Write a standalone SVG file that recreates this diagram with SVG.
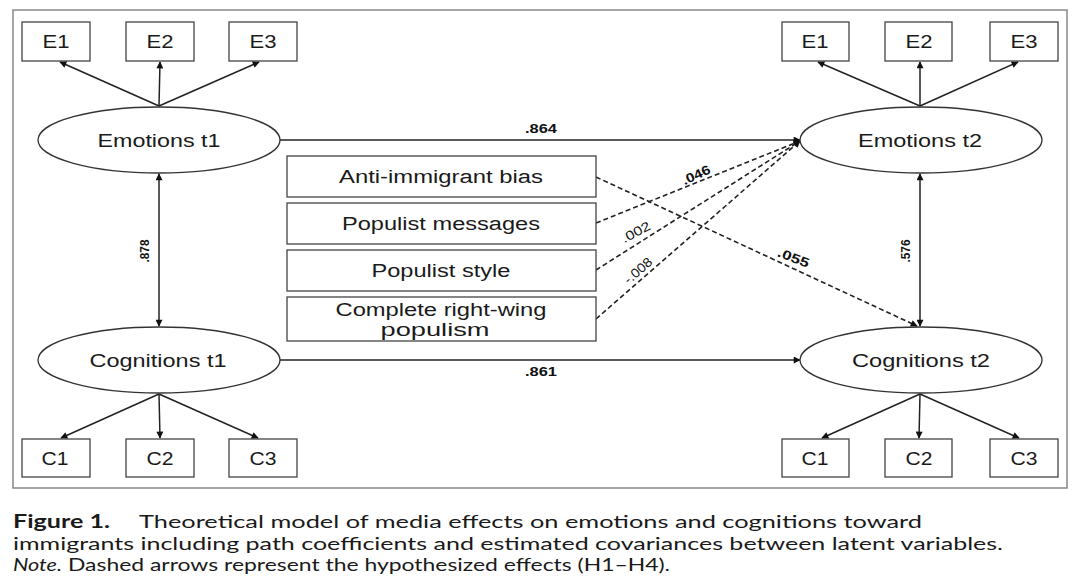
<svg xmlns="http://www.w3.org/2000/svg" width="1080" height="581" viewBox="0 0 1080 581">
<defs>
<marker id="ah" viewBox="0 0 10 10" refX="9" refY="5" markerWidth="9" markerHeight="7" markerUnits="userSpaceOnUse" orient="auto-start-reverse">
<path d="M0,0 L10,5 L0,10 z" fill="#111"/>
</marker>
<style>
.frame{fill:none;stroke:#888;stroke-width:1.5}
.box{fill:#fff;stroke:#444;stroke-width:1.3}
.ell{fill:#fff;stroke:#333;stroke-width:1.3}
.lbl{font-family:"Liberation Sans",Arial,sans-serif;font-size:18px;fill:#1a1a1a;text-anchor:middle}
.num{font-family:"Liberation Sans",Arial,sans-serif;font-size:13px;font-weight:bold;fill:#111;text-anchor:middle}
.numr{font-family:"Liberation Sans",Arial,sans-serif;font-size:13px;fill:#111;text-anchor:middle}
.ln{stroke:#222;stroke-width:1.5;fill:none}
.dash{stroke:#222;stroke-width:1.6;fill:none;stroke-dasharray:5,3}
.cap{font-family:Lato,"Open Sans",sans-serif;font-size:18px;fill:#1a1a1a}
</style>
</defs>
<rect class="frame" x="13" y="10" width="1054" height="478"/>

<g id="connectors">
<line class="ln" x1="159" y1="106" x2="60" y2="62" marker-end="url(#ah)"/>
<line class="ln" x1="159" y1="106" x2="160" y2="62" marker-end="url(#ah)"/>
<line class="ln" x1="159" y1="106" x2="259" y2="62" marker-end="url(#ah)"/>
<line class="ln" x1="920" y1="106" x2="818" y2="62" marker-end="url(#ah)"/>
<line class="ln" x1="920" y1="106" x2="920" y2="62" marker-end="url(#ah)"/>
<line class="ln" x1="920" y1="106" x2="1018" y2="62" marker-end="url(#ah)"/>
<line class="ln" x1="159" y1="394" x2="61" y2="438" marker-end="url(#ah)"/>
<line class="ln" x1="159" y1="394" x2="160" y2="438" marker-end="url(#ah)"/>
<line class="ln" x1="159" y1="394" x2="258" y2="438" marker-end="url(#ah)"/>
<line class="ln" x1="920" y1="394" x2="822" y2="438" marker-end="url(#ah)"/>
<line class="ln" x1="920" y1="394" x2="919" y2="438" marker-end="url(#ah)"/>
<line class="ln" x1="920" y1="394" x2="1019" y2="438" marker-end="url(#ah)"/>
<line class="ln" x1="159" y1="174" x2="159" y2="326" marker-start="url(#ah)" marker-end="url(#ah)"/>
<line class="ln" x1="920" y1="174" x2="920" y2="326" marker-start="url(#ah)" marker-end="url(#ah)"/>
<line class="ln" x1="280" y1="140" x2="800" y2="140" marker-end="url(#ah)"/>
<line class="ln" x1="280" y1="360" x2="800" y2="360" marker-end="url(#ah)"/>
<line class="dash" x1="596" y1="177" x2="917" y2="326" marker-end="url(#ah)"/>
<line class="dash" x1="596" y1="223" x2="800" y2="141" marker-end="url(#ah)"/>
<line class="dash" x1="596" y1="270" x2="800" y2="141" marker-end="url(#ah)"/>
<line class="dash" x1="596" y1="319" x2="800" y2="141" marker-end="url(#ah)"/>
<text class="num" x="541" y="133" textLength="32" lengthAdjust="spacingAndGlyphs">.864</text>
<text class="num" x="541" y="376" textLength="32" lengthAdjust="spacingAndGlyphs">.861</text>
<text class="num" transform="translate(149,251) rotate(-90)" textLength="23" lengthAdjust="spacingAndGlyphs">.878</text>
<text class="num" transform="translate(910,251) rotate(-90)" textLength="23" lengthAdjust="spacingAndGlyphs">.576</text>
<text class="num" transform="translate(698,179) rotate(-25)" textLength="30" lengthAdjust="spacingAndGlyphs">.046</text>
<text class="numr" transform="translate(638,236) rotate(-28)" textLength="31" lengthAdjust="spacingAndGlyphs">.002</text>
<text class="numr" transform="translate(641,274) rotate(-41)" textLength="33" lengthAdjust="spacingAndGlyphs">-.008</text>
<text class="num" transform="translate(792,262) rotate(21)" textLength="33" lengthAdjust="spacingAndGlyphs">.055</text>
</g>

<g id="E1a"><rect class="box" x="22" y="22" width="68" height="39"/><text class="lbl" x="56" y="48" textLength="27" lengthAdjust="spacingAndGlyphs">E1</text></g>
<g id="E2a"><rect class="box" x="126" y="22" width="68" height="39"/><text class="lbl" x="160" y="48" textLength="27" lengthAdjust="spacingAndGlyphs">E2</text></g>
<g id="E3a"><rect class="box" x="229" y="22" width="68" height="39"/><text class="lbl" x="263" y="48" textLength="27" lengthAdjust="spacingAndGlyphs">E3</text></g>
<g id="E1b"><rect class="box" x="782" y="22" width="67" height="39"/><text class="lbl" x="815" y="48" textLength="27" lengthAdjust="spacingAndGlyphs">E1</text></g>
<g id="E2b"><rect class="box" x="885" y="22" width="67" height="39"/><text class="lbl" x="919" y="48" textLength="27" lengthAdjust="spacingAndGlyphs">E2</text></g>
<g id="E3b"><rect class="box" x="990" y="22" width="68" height="39"/><text class="lbl" x="1024" y="48" textLength="27" lengthAdjust="spacingAndGlyphs">E3</text></g>

<g id="C1a"><rect class="box" x="22" y="439" width="68" height="38"/><text class="lbl" x="55" y="465" textLength="27" lengthAdjust="spacingAndGlyphs">C1</text></g>
<g id="C2a"><rect class="box" x="126" y="439" width="68" height="38"/><text class="lbl" x="160" y="465" textLength="27" lengthAdjust="spacingAndGlyphs">C2</text></g>
<g id="C3a"><rect class="box" x="229" y="439" width="68" height="38"/><text class="lbl" x="263" y="465" textLength="27" lengthAdjust="spacingAndGlyphs">C3</text></g>
<g id="C1b"><rect class="box" x="782" y="439" width="67" height="38"/><text class="lbl" x="815" y="465" textLength="27" lengthAdjust="spacingAndGlyphs">C1</text></g>
<g id="C2b"><rect class="box" x="885" y="439" width="67" height="38"/><text class="lbl" x="919" y="465" textLength="27" lengthAdjust="spacingAndGlyphs">C2</text></g>
<g id="C3b"><rect class="box" x="990" y="439" width="68" height="38"/><text class="lbl" x="1024" y="465" textLength="27" lengthAdjust="spacingAndGlyphs">C3</text></g>

<g id="emotions_t1"><ellipse class="ell" cx="159" cy="140" rx="121" ry="33"/><text class="lbl" x="159" y="147" textLength="123" lengthAdjust="spacingAndGlyphs">Emotions t1</text></g>
<g id="cognitions_t1"><ellipse class="ell" cx="159" cy="360" rx="121" ry="33"/><text class="lbl" x="158" y="367" textLength="137" lengthAdjust="spacingAndGlyphs">Cognitions t1</text></g>
<g id="emotions_t2"><ellipse class="ell" cx="921" cy="140" rx="121" ry="33"/><text class="lbl" x="920" y="147" textLength="124" lengthAdjust="spacingAndGlyphs">Emotions t2</text></g>
<g id="cognitions_t2"><ellipse class="ell" cx="921" cy="360" rx="121" ry="33"/><text class="lbl" x="921" y="367" textLength="138" lengthAdjust="spacingAndGlyphs">Cognitions t2</text></g>

<g id="anti_immigrant_bias"><rect class="box" x="287" y="156" width="309" height="41"/><text class="lbl" x="441" y="183" textLength="204" lengthAdjust="spacingAndGlyphs">Anti-immigrant bias</text></g>
<g id="populist_messages"><rect class="box" x="287" y="203" width="309" height="41"/><text class="lbl" x="441" y="230" textLength="198" lengthAdjust="spacingAndGlyphs">Populist messages</text></g>
<g id="populist_style"><rect class="box" x="287" y="250" width="309" height="41"/><text class="lbl" x="441" y="277" textLength="139" lengthAdjust="spacingAndGlyphs">Populist style</text></g>
<g id="complete_rw_populism"><rect class="box" x="287" y="297" width="309" height="44"/><text class="lbl" x="441" y="316" textLength="211" lengthAdjust="spacingAndGlyphs">Complete right-wing</text><text class="lbl" x="435" y="336" textLength="109" lengthAdjust="spacingAndGlyphs">populism</text></g>

<g id="caption">
<text class="cap" x="13" y="528" font-weight="bold" textLength="97" lengthAdjust="spacingAndGlyphs">Figure 1.</text>
<text class="cap" x="139" y="528" textLength="783" lengthAdjust="spacingAndGlyphs">Theoretical model of media effects on emotions and cognitions toward</text>
<text class="cap" x="13" y="550" textLength="990" lengthAdjust="spacingAndGlyphs">immigrants including path coefficients and estimated covariances between latent variables.</text>
<text class="cap" x="13" y="571" font-style="italic" textLength="49" lengthAdjust="spacingAndGlyphs">Note.</text>
<text class="cap" x="68" y="571" textLength="602" lengthAdjust="spacingAndGlyphs">Dashed arrows represent the hypothesized effects (H1–H4).</text>
</g>
</svg>
